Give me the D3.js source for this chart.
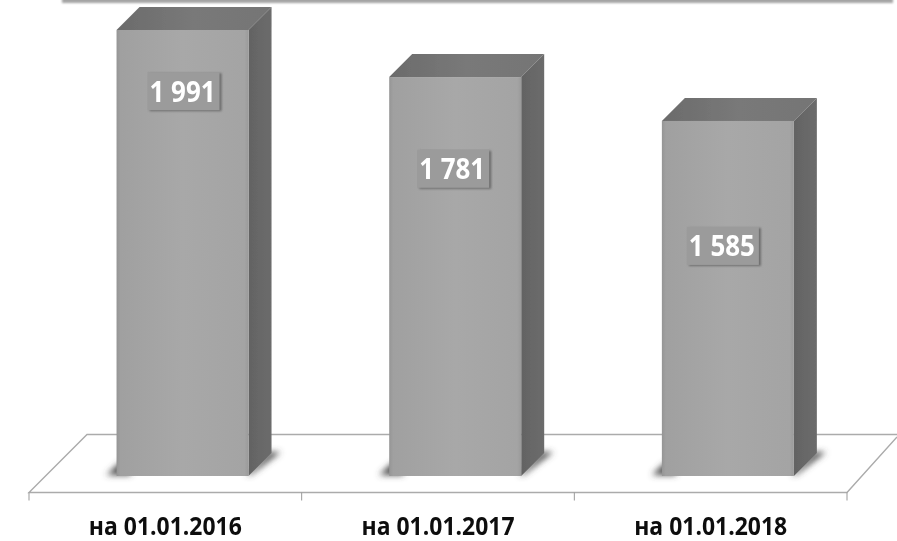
<!DOCTYPE html>
<html><head><meta charset="utf-8">
<script src="https://cdn.jsdelivr.net/npm/d3@7"></script>
<style>html,body{margin:0;padding:0;background:#fff;overflow:hidden}svg{display:block}</style>
</head><body>
<svg id="c" width="897" height="541"></svg>
<script>
const categories = ["на 01.01.2016","на 01.01.2017","на 01.01.2018"];
const values = [1991,1781,1585];
const valueLabels = ["1 991","1 781","1 585"];
const labelFractions = [0.137,0.23,0.352];
const labelShifts = [0,-3,-6];

const svg = d3.select("#c");
const defs = svg.append("defs");
function blur(id,s){
  const f=defs.append("filter").attr("id",id).attr("x","-60%").attr("y","-100%").attr("width","220%").attr("height","300%");
  f.append("feGaussianBlur").attr("stdDeviation",s);
}
blur("soft",0.6); blur("sh",3); blur("lb",1); blur("tx",0.35); blur("ban",1.2);
function grad(id,stops){
  const g=defs.append("linearGradient").attr("id",id).attr("x1",0).attr("y1",0).attr("x2",1).attr("y2",0);
  stops.forEach(([o,c])=>g.append("stop").attr("offset",o).attr("stop-color",c));
}
grad("front",[[0,"#959595"],[0.03,"#a0a0a0"],[0.5,"#a8a8a8"],[0.97,"#a4a4a4"],[1,"#9a9a9a"]]);
grad("top",[[0,"#6b6b6b"],[0.5,"#797979"],[1,"#757575"]]);
grad("side",[[0,"#636363"],[1,"#6c6c6c"]]);

const baseY = 476, floorFront = 492.5, floorBack = 434.5, dep = 23;
const x = d3.scaleBand().domain(categories).range([29,847]).padding(0);
const y = d3.scaleLinear().domain([0,1991]).range([baseY,30]);
const barW = 132, barShift = 17.2;

svg.append("rect").attr("x",62).attr("y",-8).attr("width",831).attr("height",11)
  .attr("fill","#a4a4a4").attr("filter","url(#ban)");

const floor = svg.append("g").attr("fill","none").attr("stroke","#ababab").attr("stroke-width",1.4);
floor.append("path").attr("d",d3.line()([[897,437],[847,492.5],[29,492.5],[87,floorBack],[897,floorBack]]));
svg.append("g").attr("stroke","#999").attr("stroke-width",1)
  .selectAll("line").data([...categories.map(c=>x(c)),x(categories[2])+x.bandwidth()]).join("line")
  .attr("x1",d=>d).attr("x2",d=>d).attr("y1",floorFront).attr("y2",floorFront+8);

const bars = svg.selectAll("g.bar").data(categories.map((c,i)=>({c,v:values[i],t:valueLabels[i],f:labelFractions[i],s:labelShifts[i]})))
  .join("g").attr("class","bar");
bars.each(function(d){
  const g=d3.select(this);
  const l=x(d.c)+x.bandwidth()/2+barShift-barW/2, r=l+barW, t=y(d.v), b=y(0);
  g.append("path").attr("d",d3.line()([[l-10,b-1],[l+3,b-13],[l+14,b-13],[l+14,b-1]])).attr("fill","#4a4a4a").attr("filter","url(#sh)");
  g.append("path").attr("d",d3.line()([[r-2,b-1],[r+dep-2,b-dep-1],[r+dep+9,b-dep-1],[r+2,b-1]])).attr("fill","#4a4a4a").attr("filter","url(#sh)");
  const bx=g.append("g").attr("filter","url(#soft)");
  bx.append("path").attr("d",d3.line()([[l,t],[l+dep,t-dep],[r+dep,t-dep],[r,t]])).attr("fill","url(#top)");
  bx.append("path").attr("d",d3.line()([[r,t],[r+dep,t-dep],[r+dep,b-dep],[r,b]])).attr("fill","url(#side)");
  bx.append("rect").attr("x",l).attr("y",t).attr("width",barW).attr("height",b-t).attr("fill","url(#front)");
  const cy=t+(b-t)*d.f, cx=(l+r)/2+1+d.s;
  g.append("rect").attr("x",cx-34).attr("y",cy-18).attr("width",72).attr("height",38).attr("fill","#6a6a6a").attr("filter","url(#lb)");
  g.append("rect").attr("x",cx-36).attr("y",cy-19).attr("width",72).attr("height",38).attr("fill","#9b9b9b");
  g.append("text").attr("x",cx-1).attr("y",cy+10.5).attr("text-anchor","middle")
    .attr("font-family","'Open Sans'").attr("font-weight",700).attr("font-size",29).attr("fill","#fff")
    .attr("textLength",66).attr("lengthAdjust","spacingAndGlyphs").attr("filter","url(#tx)").text(d.t);
});

svg.selectAll("text.cat").data(categories).join("text").attr("class","cat")
  .attr("x",d=>x(d)+x.bandwidth()/2).attr("y",535).attr("text-anchor","middle")
  .attr("font-family","'Open Sans'").attr("font-weight",700).attr("font-size",25).attr("fill","#111")
  .attr("textLength",153).attr("lengthAdjust","spacingAndGlyphs").attr("filter","url(#tx)").text(d=>d);
</script>
</body></html>
